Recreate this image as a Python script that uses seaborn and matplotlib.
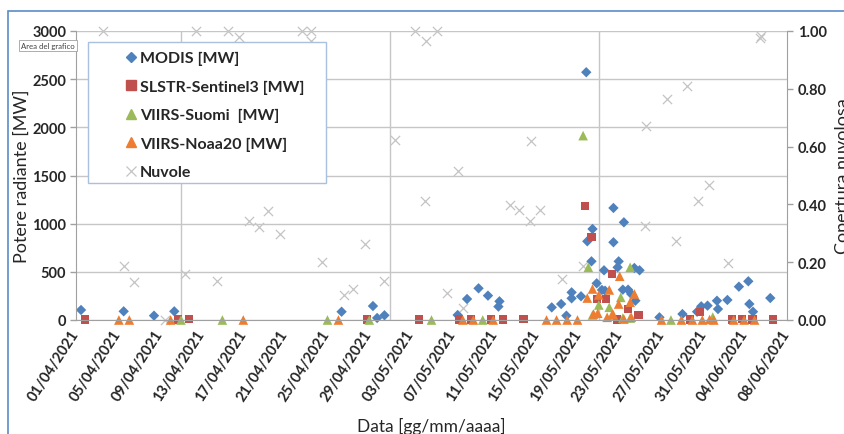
import numpy as np
import pandas as pd
import matplotlib
matplotlib.use("Agg")
import matplotlib.pyplot as plt
import seaborn as sns
from matplotlib.lines import Line2D
from matplotlib.patches import Rectangle

# ---------------- data (x = days since 01/04/2021) ----------------
START = "2021-04-01"
END = "2021-06-08"

modis_day = [0.48, 4.56, 7.46, 9.4, 25.4, 28.4, 28.8, 29.5, 36.5, 37.4, 38.5, 39.4, 40.4, 40.5,
             45.5, 46.4, 46.9, 47.4, 47.4, 48.3, 48.8, 48.9, 49.3, 49.4, 49.8, 50.3, 50.6, 50.5,
             51.4, 51.4, 51.8, 51.9, 52.3, 52.4, 52.8, 53.1, 53.4, 53.5, 53.9, 55.8, 58.0, 59.4,
             59.8, 60.4, 61.3, 61.4, 62.3, 63.4, 64.3, 64.4, 64.75, 66.4]
modis_mw = [104, 90, 45, 90, 86, 145, 21, 49, 52, 218, 329, 253, 139, 194,
            131, 166, 45, 287, 225, 246, 2572, 817, 609, 945, 381, 312, 304, 516,
            1163, 807, 547, 609, 315, 1014, 315, 270, 540, 200, 516, 28, 62, 86,
            142, 149, 200, 114, 208, 346, 402, 166, 86, 228]

slstr_day = [0.86, 9.78, 10.8, 27.8, 32.8, 36.6, 37.8, 39.7, 40.8, 42.8, 48.7, 49.3, 49.8,
             50.7, 51.3, 51.7, 52.8, 53.8, 58.7, 59.7, 62.7, 63.7, 64.7, 66.7]
slstr_mw = [5, 5, 15, 5, 5, 5, 5, 5, 5, 8, 1187, 858, 218,
            218, 478, 5, 114, 52, 5, 86, 5, 12, 5, 5]

suomi_day = [10.04, 14.0, 24.05, 28.05, 34.0, 38.9, 48.5, 49.0, 49.4, 50.0, 51.0, 52.1,
             52.3, 53.0, 53.0, 56.9, 60.9]
suomi_mw = [0, 0, 0, 0, 0, 0, 1914, 547, 52, 156, 132, 235,
            20, 547, 20, 0, 30]

noaa_day = [4.1, 5.1, 9.05, 16.0, 25.1, 37.0, 38.0, 39.9, 45.0, 45.96, 46.97, 47.96,
            48.9, 49.4, 49.5, 49.9, 50.0, 50.8, 51.0, 51.3, 51.4, 51.9, 52.0, 52.4, 53.0,
            53.1, 53.4, 56.0, 57.9, 58.95, 59.9, 60.6, 61.0, 62.9, 63.9, 64.9]
noaa_mw = [0, 0, 0, 0, 0, 0, 0, 0, 0, 0, 0, 0,
           228, 322, 62, 70, 260, 28, 312, 62, 52, 166, 454, 10, 184,
           30, 270, 0, 0, 0, 0, 5, 0, 0, 0, 0]

nuvole_day = [2.6, 4.59, 5.54, 8.5, 10.45, 11.5, 13.5, 14.5, 15.55, 16.54, 17.5, 18.4, 19.5,
              21.6, 22.5, 22.5, 23.5, 25.6, 26.5, 27.6, 29.5, 30.5, 32.4, 33.4, 33.5, 34.5,
              35.5, 36.5, 37.0, 41.5, 42.4, 43.4, 43.5, 44.4, 46.5, 48.5, 54.4, 54.5, 56.5,
              57.4, 58.4, 59.5, 60.5, 62.4, 65.4, 65.5]
nuvole_frac = [1.0, 0.188, 0.133, 0.0, 0.159, 1.0, 0.134, 1.0, 0.98, 0.341, 0.323, 0.378, 0.297,
               1.0, 1.0, 0.967, 0.20, 0.088, 0.107, 0.263, 0.136, 0.624, 1.0, 0.413, 0.966, 0.999,
               0.092, 0.517, 0.04, 0.399, 0.382, 0.344, 0.62, 0.382, 0.142, 0.188, 0.326, 0.672, 0.765,
               0.274, 0.81, 0.413, 0.467, 0.197, 0.975, 0.982]

labels = ["MODIS [MW]", "SLSTR-Sentinel3 [MW]", "VIIRS-Suomi  [MW]", "VIIRS-Noaa20 [MW]", "Nuvole"]
colors = ["#4F81BD", "#C0504D", "#9BBB59", "#ED7D31", "#C4C4C4"]

x_tick_step = "4D"
x_grid_step = "10D"
y_ticks = [0, 500, 1000, 1500, 2000, 2500, 3000]
y2_ticks = [0.0, 0.2, 0.4, 0.6, 0.8, 1.0]


def to_dates(days):
    return pd.Timestamp(START) + pd.to_timedelta(np.asarray(days, dtype=float), unit="D")


# ---------------- style ----------------
sns.set_style("white")
plt.rcParams['font.family'] = ['Lato', 'DejaVu Sans']

W, H = 845, 435
fig = plt.figure(figsize=(W / 100, H / 100), dpi=100)
ax = fig.add_axes([76 / W, 1 - 321 / H, 711 / W, 289 / H])
ax2 = ax.twinx()
ax.set_zorder(ax2.get_zorder() + 1)
ax.patch.set_visible(False)

# cloud cover on secondary axis
df_n = pd.DataFrame({"data": to_dates(nuvole_day), "val": nuvole_frac})
sns.scatterplot(data=df_n, x="data", y="val", ax=ax2, marker="x", color=colors[4],
                s=44, linewidth=0.9, clip_on=False, legend=False)

series = [
    (modis_day, modis_mw, "D", 28, colors[0]),
    (slstr_day, slstr_mw, "s", 34, colors[1]),
    (suomi_day, suomi_mw, "^", 48, colors[2]),
    (noaa_day, noaa_mw, "^", 48, colors[3]),
]
for days, vals, mk, sz, col in series:
    df = pd.DataFrame({"data": to_dates(days), "val": vals})
    sns.scatterplot(data=df, x="data", y="val", ax=ax, marker=mk, color=col, s=sz,
                    edgecolor="none", linewidth=0, clip_on=False, legend=False)

# ---------------- axes ----------------
grid_col = "#C6C6C6"
ax.set_xlim(pd.Timestamp(START), pd.Timestamp(END))
ax.set_ylim(0, 3000)
ax2.set_ylim(0, 1)

major = pd.date_range(START, END, freq=x_tick_step)
minor = pd.date_range(START, END, freq=x_grid_step)
ax.set_xticks(major)
ax.set_xticklabels([d.strftime("%d/%m/%Y") for d in major], rotation=57, ha="right",
                   va="center", rotation_mode="anchor", fontweight="bold", fontsize=10.5)
ax.set_xticks(minor, minor=True)
ax.set_yticks(y_ticks)
ax.set_yticklabels([str(v) for v in y_ticks], fontweight="bold", fontsize=10.5)
ax2.set_yticks(y2_ticks)
ax2.set_yticklabels([f"{v:.2f}" for v in y2_ticks], fontweight="bold", fontsize=10.5)

ax.grid(True, axis="y", which="major", color=grid_col, lw=1)
ax.grid(True, axis="x", which="minor", color=grid_col, lw=1)
ax.grid(False, axis="x", which="major")
ax2.grid(False)

ax.tick_params(axis="x", which="major", direction="out", length=4, width=1, color="#A0A0A0", pad=4)
ax.tick_params(axis="x", which="minor", length=0)
ax.tick_params(axis="y", which="major", direction="out", length=4, width=1, color="#A0A0A0", pad=3)
ax2.tick_params(axis="y", which="major", direction="out", length=4, width=1, color="#A0A0A0", pad=4)

for sp in ["top", "right"]:
    ax.spines[sp].set_visible(False)
for sp in ["left", "bottom"]:
    ax.spines[sp].set_color("#A0A0A0")
for sp in ["top", "left", "bottom"]:
    ax2.spines[sp].set_visible(False)
ax2.spines["right"].set_color("#A0A0A0")

ax.set_xlabel("Data [gg/mm/aaaa]", fontsize=12.5, labelpad=10)
ax.set_ylabel("Potere radiante [MW]", fontsize=13, labelpad=2)
ax2.set_ylabel("Copertura nuvolosa", fontsize=13, labelpad=6)

# ---------------- chart frame, legend, tooltip ----------------
fig.patches.append(Rectangle((8 / W, -0.5), 2, 0.5 + (1 - 12 / H), transform=fig.transFigure,
                             fill=False, edgecolor="#5B8CC8", lw=1.2, zorder=2))
fig.patches.append(Rectangle((88 / W, 1 - 184 / H), (326 - 88) / W, (184 - 43) / H,
                             transform=fig.transFigure, facecolor="white",
                             edgecolor="#A9C0DE", lw=1.0, zorder=3))

handles = [
    Line2D([], [], ls="none", marker="D", color=colors[0], markersize=5),
    Line2D([], [], ls="none", marker="s", color=colors[1], markersize=7),
    Line2D([], [], ls="none", marker="^", color=colors[2], markersize=7),
    Line2D([], [], ls="none", marker="^", color=colors[3], markersize=7),
    Line2D([], [], ls="none", marker="x", color=colors[4], markersize=7, markeredgewidth=0.9),
]
fig.legend(handles, labels, loc="upper left", bbox_to_anchor=(125 / W, 1 - 52 / H),
           bbox_transform=fig.transFigure, frameon=False, borderpad=0, borderaxespad=0,
           handlelength=0.75, handletextpad=0.2, labelspacing=0.9,
           prop={"weight": "bold", "size": 11.5})

fig.text(21 / W, 1 - 46.5 / H, "Area del grafico", fontsize=5.6, ha="left", va="center",
         color="#404040", zorder=10,
         bbox=dict(boxstyle="square,pad=0.3", fc="white", ec="#A0A0A0", lw=0.6))

fig.savefig("out.png", dpi=100)
